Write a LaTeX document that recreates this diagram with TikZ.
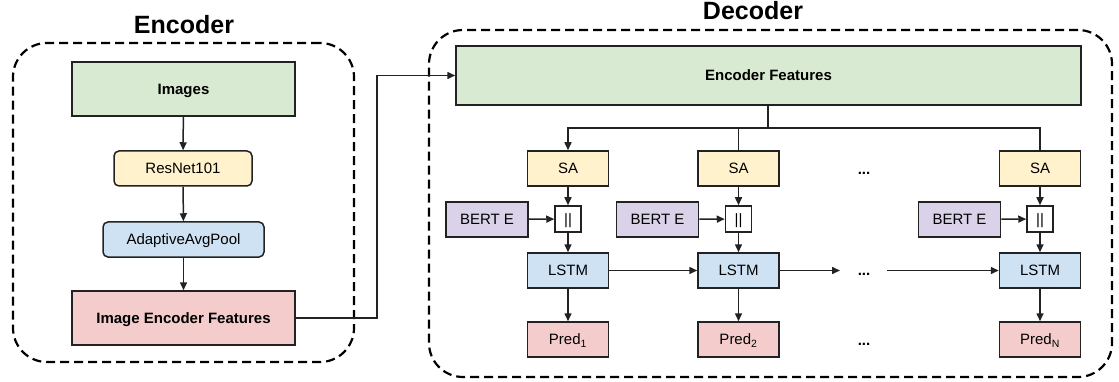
\documentclass[tikz,border=0pt]{standalone}
\usepackage{fontspec}
\setmainfont{Liberation Sans}
\usetikzlibrary{arrows.meta}
\definecolor{cgreen}{HTML}{D9EAD3}
\definecolor{cyellow}{HTML}{FFF2CC}
\definecolor{cblue}{HTML}{CFE2F3}
\definecolor{cpink}{HTML}{F4CCCC}
\definecolor{cpurple}{HTML}{D9D2E9}
\definecolor{cline}{HTML}{222222}
\tikzset{
  box/.style={draw=cline, line width=1.5pt, inner sep=0pt, minimum height=35pt,
    text height=12pt, text depth=1.5pt, font=\fontsize{15}{18}\selectfont},
  boldbox/.style={box, font=\fontsize{15}{18}\selectfont\bfseries},
  container/.style={draw=black, line width=2.2pt, dash pattern=on 9pt off 5pt,
    rounded corners=34pt, inner sep=0pt},
  title/.style={anchor=base, font=\fontsize{25}{30}\selectfont\bfseries},
  conn/.style={draw=cline, line width=1.5pt},
  arr/.style={conn, -{Triangle[length=8pt,width=7pt]}},
  dots/.style={font=\fontsize{15}{18}\selectfont\bfseries, text height=12pt, text depth=1.5pt}
}
\begin{document}
\begin{tikzpicture}[x=1pt, y=-1pt]
\useasboundingbox (0,0) rectangle (1119,382);

% ---------- containers and titles ----------
\node[container, minimum width=341pt, minimum height=319pt] (enc) at (183.5,202.5) {};
\node[container, minimum width=683pt, minimum height=347pt] (dec) at (770.5,203.5) {};
\node[title] (enctitle) at (184,34) {Encoder};
\node[title] (dectitle) at (753,20) {Decoder};

% ---------- encoder ----------
\node[boldbox, fill=cgreen, minimum width=223pt, minimum height=54pt] (img) at (183.5,89) {Images};
\node[box, fill=cyellow, rounded corners=5pt, minimum width=138pt] (res) at (183,168.5) {ResNet101};
\node[box, fill=cblue, rounded corners=5pt, minimum width=161pt] (pool) at (183.5,239.5) {AdaptiveAvgPool};
\node[boldbox, fill=cpink, minimum width=223pt, minimum height=54pt] (ief) at (183.5,318) {Image Encoder Features};

\draw[arr] (img) -- (res);
\draw[arr] (res) -- (pool);
\draw[arr] (pool) -- (ief);

% ---------- decoder ----------
\node[boldbox, fill=cgreen, minimum width=625pt, minimum height=59pt] (ef) at (768.5,75.5) {Encoder Features};
\draw[arr] (ief.east) -- ++(81,0) |- (ef.west);

\foreach \i/\cx/\bx in {1/568/487, 2/738.5/657.5, 3/1040/959.5}{
  \node[box, fill=cyellow, minimum width=81pt] (sa\i) at (\cx,168.5) {SA};
  \node[box, fill=white, minimum width=26pt, minimum height=26pt] (cat\i) at (\cx,219) {||};
  \node[box, fill=cpurple, minimum width=82pt] (bert\i) at (\bx,219.5) {BERT E};
  \node[box, fill=cblue, minimum width=81pt] (lstm\i) at (\cx,270.5) {LSTM};
  \draw[arr] (sa\i) -- (cat\i);
  \draw[arr] (bert\i) -- (cat\i);
  \draw[arr] (cat\i) -- (lstm\i);
}
\node[box, fill=cpink, minimum width=81pt] (pred1) at (568,339.5) {Pred\textsubscript{1}};
\node[box, fill=cpink, minimum width=81pt] (pred2) at (738.5,339.5) {Pred\textsubscript{2}};
\node[box, fill=cpink, minimum width=81pt] (pred3) at (1040,339.5) {Pred\textsubscript{N}};
\foreach \i in {1,2,3}{ \draw[arr] (lstm\i) -- (pred\i); }

% fan-out of the encoder features to every step
\coordinate (br) at (768,128);
\draw[conn] (ef.south -| br) -- (br);
\draw[arr] (br) -| (sa1.north);
\draw[conn] (br) -| (sa3.north);
\draw[conn] (sa2.north) -- (sa2.north |- br);

% ellipsis column
\node[dots] (d1) at (864,169) {...};
\node[dots] (d2) at (864,270) {...};
\node[dots] (d3) at (864,340) {...};

% recurrent chain
\coordinate (ca) at (840,270.5);
\coordinate (cb) at (887,270.5);
\draw[arr] (lstm1) -- (lstm2);
\draw[arr] (lstm2.east) -- (ca);
\draw[arr] (cb) -- (lstm3.west);
\end{tikzpicture}
\end{document}
